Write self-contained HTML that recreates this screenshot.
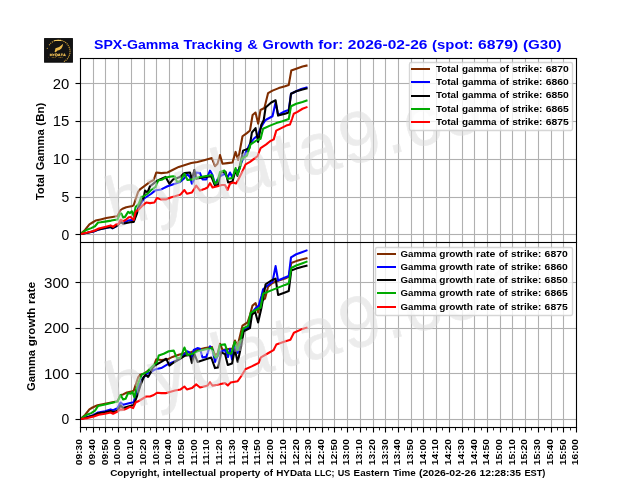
<!DOCTYPE html>
<html lang="en"><head><meta charset="utf-8"><title>SPX-Gamma Tracking &amp; Growth</title>
<style>
html,body{margin:0;padding:0;background:#fff;}
body{width:640px;height:480px;overflow:hidden;}
svg{display:block;will-change:transform;}
text{font-family:"Liberation Sans",sans-serif;}
.b{font-weight:bold;}
.g{stroke:#b0b0b0;stroke-width:1.11;}
.s{stroke:#000;stroke-width:1.11;}
.ln{fill:none;stroke-width:2.08;stroke-linejoin:round;stroke-linecap:square;}
</style></head><body>
<svg width="640" height="480" viewBox="0 0 640 480">
<rect x="0" y="0" width="640" height="480" fill="#fff"/>
<g id="logo">
<rect x="44.1" y="38.1" width="28.8" height="24.6" fill="#000"/>
<rect x="45" y="39" width="27" height="22.8" fill="#131313"/>
<clipPath id="lc"><rect x="44.1" y="38.1" width="28.8" height="24.6"/></clipPath>
<g clip-path="url(#lc)" fill="none" stroke-linecap="butt">
<path d="M49.15 45.13 A11.40 11.40 0 1 1 63.95 61.57" stroke="#d9a738" stroke-width="1.15" stroke-dasharray="1.1 0.9"/>
<path d="M54.2 40.5 H61.4" stroke="#f0c860" stroke-width="1.1"/>
<circle cx="47.3" cy="48.3" r="0.6" fill="#d2a033" stroke="none"/>
<circle cx="48.3" cy="57.3" r="0.45" fill="#6b5118" stroke="none"/>
<path d="M54.6 52 L55.5 48.3 L59.2 46.9 L63.2 43.7 L62.5 46.4 L61.4 48.5 L59.5 50.1 L57 50.7 L56 52.3 Z" fill="#ebba4a" stroke="none"/>
<path d="M50.3 53.7 V56.1 M52 53.7 V56.1 M50.3 54.9 H52 M52.8 53.7 L53.75 54.9 L54.7 53.7 M53.75 54.9 V56.1 M55.7 53.7 V56.1 H56.5 Q57.5 56.1 57.5 54.9 Q57.5 53.7 56.5 53.7 H55.7 M58.2 56.1 L59.15 53.7 L60.1 56.1 M58.6 55.4 H59.7 M60.8 54 H62.8 M61.8 54 V56.1 M63.5 56.1 L64.45 53.7 L65.4 56.1 M63.9 55.4 H65" stroke="#efc055" stroke-width="0.95"/>
<path d="M51.8 57.5 H55.6 M58.6 57.5 H62.8" stroke="#b88c2c" stroke-width="0.7" stroke-dasharray="0.9 0.6"/>
</g>
</g>
<text font-size="13.40" class="b" fill="#0000ff"><tspan x="94.00" y="49.30" textLength="84.75" lengthAdjust="spacingAndGlyphs">SPX-Gamma</tspan> <tspan x="183.44" y="49.30" textLength="59.22" lengthAdjust="spacingAndGlyphs">Tracking</tspan> <tspan x="247.36" y="49.30" textLength="10.54" lengthAdjust="spacingAndGlyphs">&amp;</tspan> <tspan x="262.61" y="49.30" textLength="51.05" lengthAdjust="spacingAndGlyphs">Growth</tspan> <tspan x="318.36" y="49.30" textLength="24.82" lengthAdjust="spacingAndGlyphs">for:</tspan> <tspan x="347.88" y="49.30" textLength="79.56" lengthAdjust="spacingAndGlyphs">2026-02-26</tspan> <tspan x="432.13" y="49.30" textLength="41.29" lengthAdjust="spacingAndGlyphs">(spot:</tspan> <tspan x="478.12" y="49.30" textLength="40.13" lengthAdjust="spacingAndGlyphs">6879)</tspan> <tspan x="522.94" y="49.30" textLength="38.71" lengthAdjust="spacingAndGlyphs">(G30)</tspan></text>
<g class="g">
<line x1="93.5" y1="58.5" x2="93.5" y2="427.5"/>
<line x1="105.5" y1="58.5" x2="105.5" y2="427.5"/>
<line x1="118.5" y1="58.5" x2="118.5" y2="427.5"/>
<line x1="131.5" y1="58.5" x2="131.5" y2="427.5"/>
<line x1="144.5" y1="58.5" x2="144.5" y2="427.5"/>
<line x1="156.5" y1="58.5" x2="156.5" y2="427.5"/>
<line x1="169.5" y1="58.5" x2="169.5" y2="427.5"/>
<line x1="182.5" y1="58.5" x2="182.5" y2="427.5"/>
<line x1="194.5" y1="58.5" x2="194.5" y2="427.5"/>
<line x1="207.5" y1="58.5" x2="207.5" y2="427.5"/>
<line x1="220.5" y1="58.5" x2="220.5" y2="427.5"/>
<line x1="233.5" y1="58.5" x2="233.5" y2="427.5"/>
<line x1="245.5" y1="58.5" x2="245.5" y2="427.5"/>
<line x1="258.5" y1="58.5" x2="258.5" y2="427.5"/>
<line x1="271.5" y1="58.5" x2="271.5" y2="427.5"/>
<line x1="283.5" y1="58.5" x2="283.5" y2="427.5"/>
<line x1="296.5" y1="58.5" x2="296.5" y2="427.5"/>
<line x1="309.5" y1="58.5" x2="309.5" y2="427.5"/>
<line x1="322.5" y1="58.5" x2="322.5" y2="427.5"/>
<line x1="334.5" y1="58.5" x2="334.5" y2="427.5"/>
<line x1="347.5" y1="58.5" x2="347.5" y2="427.5"/>
<line x1="360.5" y1="58.5" x2="360.5" y2="427.5"/>
<line x1="373.5" y1="58.5" x2="373.5" y2="427.5"/>
<line x1="385.5" y1="58.5" x2="385.5" y2="427.5"/>
<line x1="398.5" y1="58.5" x2="398.5" y2="427.5"/>
<line x1="411.5" y1="58.5" x2="411.5" y2="427.5"/>
<line x1="423.5" y1="58.5" x2="423.5" y2="427.5"/>
<line x1="436.5" y1="58.5" x2="436.5" y2="427.5"/>
<line x1="449.5" y1="58.5" x2="449.5" y2="427.5"/>
<line x1="462.5" y1="58.5" x2="462.5" y2="427.5"/>
<line x1="474.5" y1="58.5" x2="474.5" y2="427.5"/>
<line x1="487.5" y1="58.5" x2="487.5" y2="427.5"/>
<line x1="500.5" y1="58.5" x2="500.5" y2="427.5"/>
<line x1="512.5" y1="58.5" x2="512.5" y2="427.5"/>
<line x1="525.5" y1="58.5" x2="525.5" y2="427.5"/>
<line x1="538.5" y1="58.5" x2="538.5" y2="427.5"/>
<line x1="551.5" y1="58.5" x2="551.5" y2="427.5"/>
<line x1="563.5" y1="58.5" x2="563.5" y2="427.5"/>
</g>
<g fill="#b0b0b0">
<rect x="81" y="82.945" width="495" height="1.11"/>
<rect x="81" y="120.945" width="495" height="1.11"/>
<rect x="81" y="158.945" width="495" height="1.11"/>
<rect x="81" y="196.945" width="495" height="1.11"/>
<rect x="81" y="233.945" width="495" height="1.11"/>
<rect x="81" y="281.945" width="495" height="1.11"/>
<rect x="81" y="327.945" width="495" height="1.11"/>
<rect x="81" y="372.945" width="495" height="1.11"/>
<rect x="81" y="418.945" width="495" height="1.11"/>
</g>
<clipPath id="c1"><rect x="80" y="57.6" width="496" height="184.8"/></clipPath>
<clipPath id="c2"><rect x="80" y="242.4" width="496" height="184.8"/></clipPath>
<g class="ln" clip-path="url(#c1)">
<polyline stroke="#7f2d00" points="80.50,234.00 85.00,230.00 89.40,224.40 92.50,222.50 95.60,220.60 100.60,219.40 106.25,218.10 112.50,216.90 117.50,216.00 120.60,210.00 122.50,208.75 126.25,207.25 132.50,206.00 133.75,205.00 138.10,191.90 140.00,189.40 145.00,185.60 150.00,181.90 153.75,180.00 156.25,172.50 161.25,173.10 167.50,172.50 172.50,170.00 178.75,166.90 185.00,165.00 191.25,163.10 197.50,161.90 205.00,160.00 211.90,158.10 215.00,166.25 217.50,163.75 220.00,155.00 222.50,163.75 227.50,163.10 232.50,162.50 235.60,151.90 238.10,160.00 242.50,136.25 246.90,133.10 250.00,130.50 252.60,115.00 255.50,112.50 258.20,123.70 260.50,110.00 264.40,108.00 268.10,93.10 272.50,90.60 278.75,88.10 285.00,86.25 288.75,85.00 291.25,70.60 296.25,68.75 302.50,66.50 306.50,65.60"/>
<polyline stroke="#0000ff" points="80.50,234.00 87.50,232.80 93.75,231.50 98.75,229.60 105.00,228.20 110.60,227.00 112.50,228.30 117.50,225.50 120.60,221.00 123.10,222.80 128.10,220.60 131.25,220.00 133.75,220.60 136.90,211.25 138.75,206.90 141.25,203.10 143.75,198.75 147.50,196.25 151.25,193.75 155.00,190.60 161.25,189.40 167.50,186.25 175.00,183.75 180.00,181.90 183.75,178.75 187.50,174.40 190.00,176.90 191.90,183.75 193.75,180.00 196.25,172.50 200.00,173.10 202.50,179.40 206.25,179.40 210.00,170.60 212.50,175.00 215.00,185.00 217.50,179.40 220.00,176.25 225.00,173.75 227.50,177.50 230.00,172.50 232.50,177.50 235.60,170.00 238.75,170.60 241.90,161.25 246.00,152.00 250.00,143.75 253.75,138.75 257.50,135.60 261.25,126.90 263.10,123.75 265.60,120.00 272.50,116.25 275.60,102.50 278.10,115.00 285.00,111.25 288.75,110.00 291.00,93.75 296.25,91.25 301.25,89.00 306.50,87.50"/>
<polyline stroke="#000000" points="80.50,234.00 87.50,232.80 93.75,231.30 98.75,229.40 105.00,228.00 110.60,226.90 112.50,228.10 117.50,225.60 120.60,221.90 123.10,223.75 130.00,222.25 133.75,221.90 136.90,213.75 138.75,206.90 141.25,201.25 143.75,197.50 145.00,190.60 147.50,192.50 150.00,186.25 152.50,184.40 155.60,181.90 158.75,180.00 165.60,176.90 169.40,183.75 173.10,179.40 180.00,176.90 184.40,173.10 190.00,172.50 191.90,179.40 194.40,170.00 196.25,178.75 200.00,178.10 205.00,176.90 211.25,176.25 215.00,185.60 218.10,185.00 220.60,172.50 225.60,171.90 228.10,182.50 232.50,181.50 235.60,170.00 237.50,176.00 240.00,165.00 243.10,150.60 249.40,148.10 251.90,132.50 255.60,128.10 258.10,141.90 261.25,125.00 263.75,120.00 265.60,107.50 271.25,102.50 275.60,100.25 278.10,115.60 285.00,113.75 288.75,112.50 291.00,93.75 296.25,91.25 302.50,89.40 306.50,88.50"/>
<polyline stroke="#00aa00" points="80.50,234.00 86.25,230.00 91.25,228.10 95.00,226.25 98.10,222.50 100.60,222.25 105.00,221.60 111.25,220.60 117.50,219.40 120.00,213.75 121.25,213.50 123.10,217.50 125.00,216.90 128.10,211.90 130.00,213.10 131.90,211.25 133.75,216.25 135.60,206.90 138.75,203.75 141.25,196.90 143.75,196.25 147.50,193.75 151.25,190.00 155.60,186.90 158.10,180.60 162.50,179.40 165.60,177.50 168.75,176.90 173.10,176.25 175.00,176.50 176.90,181.90 180.00,181.25 184.40,173.75 187.50,180.00 192.50,179.40 197.50,177.50 205.00,176.25 211.90,175.00 215.00,183.75 217.50,181.25 220.00,171.90 224.40,170.60 227.50,178.75 232.50,178.10 235.60,168.10 237.50,175.00 240.00,167.50 241.90,158.75 246.90,155.60 250.60,144.40 256.25,140.60 260.60,138.75 263.10,128.75 270.00,125.60 276.25,123.10 282.50,121.25 288.75,119.00 291.00,106.25 296.25,103.75 302.50,101.90 306.50,100.60"/>
<polyline stroke="#ff0000" points="80.50,234.00 87.50,232.50 93.75,231.00 98.75,228.50 105.00,226.90 110.60,225.40 113.10,226.90 116.25,224.40 118.75,223.75 120.60,219.75 123.10,221.25 125.60,220.00 128.75,217.25 130.60,216.90 133.75,220.00 135.60,211.90 138.75,209.40 142.50,205.60 146.25,202.50 150.00,203.10 154.40,202.50 156.90,198.10 161.25,199.40 166.25,199.40 170.60,197.50 175.00,196.25 180.60,194.40 184.40,190.00 186.90,193.75 191.90,192.50 196.25,185.60 200.00,190.60 205.00,188.75 207.50,187.50 210.00,183.10 212.50,187.50 217.50,186.25 221.90,185.00 225.00,185.00 227.50,190.00 230.00,183.75 233.00,182.50 236.00,183.50 238.10,180.00 241.90,172.50 245.60,164.40 250.00,161.90 257.50,156.25 260.60,148.10 266.25,144.40 270.00,141.25 273.75,139.40 276.25,130.60 281.25,128.10 286.25,125.60 290.00,124.40 292.00,119.00 293.75,113.75 297.50,111.90 302.50,108.75 306.50,107.25"/>
</g>
<g class="ln" clip-path="url(#c2)">
<polyline stroke="#7f2d00" points="80.50,419.00 85.00,415.00 89.40,409.40 92.50,407.50 97.50,405.25 105.00,403.75 112.50,402.25 117.50,401.25 120.60,395.00 123.10,394.40 126.90,392.50 132.50,391.25 133.75,390.60 138.10,377.50 140.00,375.00 145.00,373.10 150.00,369.00 153.75,365.80 156.25,359.40 161.25,360.00 167.50,359.40 172.50,356.90 178.75,354.75 185.00,353.10 191.25,351.90 197.50,350.00 205.00,348.10 211.90,346.90 215.00,355.00 217.50,353.75 220.00,343.75 222.50,350.00 230.00,348.75 232.50,348.75 235.00,340.60 237.50,346.25 242.50,325.60 247.50,322.50 250.00,315.00 252.50,305.60 255.60,303.10 258.10,312.50 261.25,301.25 265.00,298.75 268.10,286.75 272.50,283.00 278.75,280.50 285.00,278.60 288.75,276.75 291.25,263.00 296.25,261.10 302.50,259.25 306.50,258.25"/>
<polyline stroke="#0000ff" points="80.50,419.00 87.50,416.90 93.75,415.00 98.10,412.50 105.00,411.25 110.60,409.40 113.10,410.25 117.50,408.10 120.60,402.50 123.10,404.75 130.00,403.10 133.75,402.25 136.90,390.00 140.00,383.75 142.50,378.75 147.50,373.10 150.00,372.50 155.00,369.40 161.25,368.10 167.50,364.40 175.00,361.25 180.00,358.75 183.75,355.00 187.50,351.25 190.00,353.10 191.90,358.75 193.75,350.00 197.50,348.10 200.00,348.75 202.50,357.50 206.25,356.90 210.00,346.25 212.50,350.00 215.00,361.90 217.50,356.25 220.00,351.90 225.00,350.00 228.00,357.00 230.00,349.00 232.00,359.40 234.80,345.00 237.70,353.00 240.50,342.00 243.75,330.00 248.75,327.50 251.25,313.75 255.00,308.75 258.75,305.60 261.50,296.00 263.10,289.25 267.50,285.50 272.50,281.75 275.60,266.10 278.10,280.50 285.00,277.40 288.75,276.10 291.00,257.40 296.25,254.25 302.50,252.00 306.50,250.50"/>
<polyline stroke="#000000" points="80.50,419.00 87.50,417.20 93.75,415.50 98.10,413.30 105.00,412.25 110.60,411.00 113.10,412.25 117.50,410.60 120.60,405.60 123.10,408.10 130.00,406.00 133.75,405.00 137.50,395.00 140.60,385.00 143.75,376.90 145.60,375.00 148.10,376.90 150.00,373.75 152.50,368.10 155.60,365.00 161.25,361.90 166.25,358.75 169.40,365.60 173.75,362.50 180.00,358.75 185.00,355.60 190.00,355.00 191.90,363.10 194.40,353.75 197.50,361.90 205.00,359.40 211.25,357.50 215.00,368.10 218.10,367.50 221.25,352.50 225.00,354.00 227.80,365.00 232.00,363.60 234.80,349.50 237.70,362.00 241.20,346.00 243.75,331.25 250.00,328.10 251.90,315.00 255.00,311.25 258.10,322.50 261.25,308.75 263.75,295.00 265.60,284.25 271.25,280.50 275.60,278.60 278.10,294.90 285.00,292.40 288.75,291.10 291.25,270.50 296.25,268.60 302.50,266.75 306.50,265.75"/>
<polyline stroke="#00aa00" points="80.50,419.00 86.25,415.00 91.25,413.10 95.00,410.60 98.10,406.00 105.00,404.40 111.25,402.90 117.50,401.60 120.60,395.00 123.10,399.40 125.60,398.75 128.10,393.10 130.60,393.75 132.50,391.90 134.40,397.50 136.25,388.75 138.75,381.90 141.90,374.40 147.50,371.90 150.00,368.75 153.75,365.00 156.90,362.50 158.75,355.60 163.75,353.75 168.75,351.25 173.75,350.60 176.90,358.10 180.60,357.50 184.40,347.50 187.50,355.00 192.50,353.75 197.50,351.25 205.00,349.40 211.90,348.10 215.00,357.50 217.50,356.25 220.00,345.00 225.00,344.40 227.80,353.00 231.30,353.75 234.80,341.80 237.50,350.00 240.30,341.50 243.10,328.50 248.10,325.80 250.60,313.10 255.60,310.00 260.60,307.50 263.10,293.75 272.50,289.90 278.75,287.40 285.00,284.90 288.75,283.60 291.25,268.00 296.25,265.50 302.50,263.25 306.50,261.75"/>
<polyline stroke="#ff0000" points="80.50,419.00 87.50,418.10 93.75,416.50 98.75,414.75 105.00,413.75 110.60,412.50 113.10,413.75 117.50,411.50 120.60,409.40 123.75,409.75 126.25,408.75 130.00,406.90 133.10,408.10 135.60,402.50 138.75,401.00 142.50,398.75 146.25,396.50 150.00,396.50 153.75,395.00 156.90,392.80 161.25,393.10 166.25,393.10 175.00,390.60 180.60,389.40 184.40,386.50 186.90,389.40 191.90,388.10 196.25,384.40 200.00,387.50 205.00,386.25 207.50,385.60 210.00,382.25 212.50,385.60 217.50,384.75 221.90,383.75 225.00,383.00 227.80,385.40 230.60,382.60 237.70,381.20 241.20,376.25 245.40,369.20 251.70,366.40 258.75,362.90 260.90,357.30 267.20,353.75 273.50,350.20 276.30,344.60 284.10,341.80 290.40,339.70 293.90,332.70 300.90,329.60 306.50,327.70"/>
</g>
<g class="s">
<line x1="80.5" y1="58" x2="80.5" y2="428"/>
<line x1="576.5" y1="58" x2="576.5" y2="428"/>
</g>
<g fill="#000">
<rect x="79.945" y="57.945" width="497.11" height="1.11"/>
<rect x="79.945" y="241.945" width="497.11" height="1.11"/>
<rect x="79.945" y="426.945" width="497.11" height="1.11"/>
</g>
<g fill="#000">
<rect x="75.5" y="82.945" width="4.5" height="1.11"/>
<rect x="75.5" y="120.945" width="4.5" height="1.11"/>
<rect x="75.5" y="158.945" width="4.5" height="1.11"/>
<rect x="75.5" y="196.945" width="4.5" height="1.11"/>
<rect x="75.5" y="233.945" width="4.5" height="1.11"/>
<rect x="75.5" y="281.945" width="4.5" height="1.11"/>
<rect x="75.5" y="327.945" width="4.5" height="1.11"/>
<rect x="75.5" y="372.945" width="4.5" height="1.11"/>
<rect x="75.5" y="418.945" width="4.5" height="1.11"/>
<rect x="79.945" y="428" width="1.11" height="4.5"/>
<rect x="92.945" y="428" width="1.11" height="4.5"/>
<rect x="104.945" y="428" width="1.11" height="4.5"/>
<rect x="117.945" y="428" width="1.11" height="4.5"/>
<rect x="130.945" y="428" width="1.11" height="4.5"/>
<rect x="143.945" y="428" width="1.11" height="4.5"/>
<rect x="155.945" y="428" width="1.11" height="4.5"/>
<rect x="168.945" y="428" width="1.11" height="4.5"/>
<rect x="181.945" y="428" width="1.11" height="4.5"/>
<rect x="193.945" y="428" width="1.11" height="4.5"/>
<rect x="206.945" y="428" width="1.11" height="4.5"/>
<rect x="219.945" y="428" width="1.11" height="4.5"/>
<rect x="232.945" y="428" width="1.11" height="4.5"/>
<rect x="244.945" y="428" width="1.11" height="4.5"/>
<rect x="257.945" y="428" width="1.11" height="4.5"/>
<rect x="270.945" y="428" width="1.11" height="4.5"/>
<rect x="282.945" y="428" width="1.11" height="4.5"/>
<rect x="295.945" y="428" width="1.11" height="4.5"/>
<rect x="308.945" y="428" width="1.11" height="4.5"/>
<rect x="321.945" y="428" width="1.11" height="4.5"/>
<rect x="333.945" y="428" width="1.11" height="4.5"/>
<rect x="346.945" y="428" width="1.11" height="4.5"/>
<rect x="359.945" y="428" width="1.11" height="4.5"/>
<rect x="372.945" y="428" width="1.11" height="4.5"/>
<rect x="384.945" y="428" width="1.11" height="4.5"/>
<rect x="397.945" y="428" width="1.11" height="4.5"/>
<rect x="410.945" y="428" width="1.11" height="4.5"/>
<rect x="422.945" y="428" width="1.11" height="4.5"/>
<rect x="435.945" y="428" width="1.11" height="4.5"/>
<rect x="448.945" y="428" width="1.11" height="4.5"/>
<rect x="461.945" y="428" width="1.11" height="4.5"/>
<rect x="473.945" y="428" width="1.11" height="4.5"/>
<rect x="486.945" y="428" width="1.11" height="4.5"/>
<rect x="499.945" y="428" width="1.11" height="4.5"/>
<rect x="511.945" y="428" width="1.11" height="4.5"/>
<rect x="524.945" y="428" width="1.11" height="4.5"/>
<rect x="537.945" y="428" width="1.11" height="4.5"/>
<rect x="550.945" y="428" width="1.11" height="4.5"/>
<rect x="562.945" y="428" width="1.11" height="4.5"/>
<rect x="575.945" y="428" width="1.11" height="4.5"/>
<rect x="86" y="428" width="1" height="2.42" fill-opacity="0.85"/>
<rect x="99" y="428" width="1" height="2.42" fill-opacity="0.85"/>
<rect x="112" y="428" width="1" height="2.42" fill-opacity="0.85"/>
<rect x="125" y="428" width="1" height="2.42" fill-opacity="0.85"/>
<rect x="137" y="428" width="1" height="2.42" fill-opacity="0.85"/>
<rect x="150" y="428" width="1" height="2.42" fill-opacity="0.85"/>
<rect x="163" y="428" width="1" height="2.42" fill-opacity="0.85"/>
<rect x="175" y="428" width="1" height="2.42" fill-opacity="0.85"/>
<rect x="188" y="428" width="1" height="2.42" fill-opacity="0.85"/>
<rect x="201" y="428" width="1" height="2.42" fill-opacity="0.85"/>
<rect x="214" y="428" width="1" height="2.42" fill-opacity="0.85"/>
<rect x="226" y="428" width="1" height="2.42" fill-opacity="0.85"/>
<rect x="239" y="428" width="1" height="2.42" fill-opacity="0.85"/>
<rect x="252" y="428" width="1" height="2.42" fill-opacity="0.85"/>
<rect x="264" y="428" width="1" height="2.42" fill-opacity="0.85"/>
<rect x="277" y="428" width="1" height="2.42" fill-opacity="0.85"/>
<rect x="290" y="428" width="1" height="2.42" fill-opacity="0.85"/>
<rect x="303" y="428" width="1" height="2.42" fill-opacity="0.85"/>
<rect x="315" y="428" width="1" height="2.42" fill-opacity="0.85"/>
<rect x="328" y="428" width="1" height="2.42" fill-opacity="0.85"/>
<rect x="341" y="428" width="1" height="2.42" fill-opacity="0.85"/>
<rect x="353" y="428" width="1" height="2.42" fill-opacity="0.85"/>
<rect x="366" y="428" width="1" height="2.42" fill-opacity="0.85"/>
<rect x="379" y="428" width="1" height="2.42" fill-opacity="0.85"/>
<rect x="392" y="428" width="1" height="2.42" fill-opacity="0.85"/>
<rect x="404" y="428" width="1" height="2.42" fill-opacity="0.85"/>
<rect x="417" y="428" width="1" height="2.42" fill-opacity="0.85"/>
<rect x="430" y="428" width="1" height="2.42" fill-opacity="0.85"/>
<rect x="442" y="428" width="1" height="2.42" fill-opacity="0.85"/>
<rect x="455" y="428" width="1" height="2.42" fill-opacity="0.85"/>
<rect x="468" y="428" width="1" height="2.42" fill-opacity="0.85"/>
<rect x="481" y="428" width="1" height="2.42" fill-opacity="0.85"/>
<rect x="493" y="428" width="1" height="2.42" fill-opacity="0.85"/>
<rect x="506" y="428" width="1" height="2.42" fill-opacity="0.85"/>
<rect x="519" y="428" width="1" height="2.42" fill-opacity="0.85"/>
<rect x="531" y="428" width="1" height="2.42" fill-opacity="0.85"/>
<rect x="544" y="428" width="1" height="2.42" fill-opacity="0.85"/>
<rect x="557" y="428" width="1" height="2.42" fill-opacity="0.85"/>
<rect x="570" y="428" width="1" height="2.42" fill-opacity="0.85"/>
</g>
<text font-size="14.50"><tspan x="52.78" y="88.80" textLength="16.50" lengthAdjust="spacingAndGlyphs">20</tspan></text>
<text font-size="14.50"><tspan x="52.65" y="125.80" textLength="16.63" lengthAdjust="spacingAndGlyphs">15</tspan></text>
<text font-size="14.50"><tspan x="52.65" y="163.80" textLength="16.63" lengthAdjust="spacingAndGlyphs">10</tspan></text>
<text font-size="14.50"><tspan x="61.53" y="201.80" textLength="7.75" lengthAdjust="spacingAndGlyphs">5</tspan></text>
<text font-size="14.50"><tspan x="61.53" y="239.80" textLength="7.75" lengthAdjust="spacingAndGlyphs">0</tspan></text>
<text font-size="14.50"><tspan x="44.03" y="287.80" textLength="25.25" lengthAdjust="spacingAndGlyphs">300</tspan></text>
<text font-size="14.50"><tspan x="44.03" y="332.80" textLength="25.25" lengthAdjust="spacingAndGlyphs">200</tspan></text>
<text font-size="14.50"><tspan x="43.90" y="378.80" textLength="25.38" lengthAdjust="spacingAndGlyphs">100</tspan></text>
<text font-size="14.50"><tspan x="61.53" y="423.80" textLength="7.75" lengthAdjust="spacingAndGlyphs">0</tspan></text>
<text font-size="9.40" class="b" transform="translate(82.30,438.80) rotate(-90)"><tspan x="-26.45" y="0.00" textLength="26.10" lengthAdjust="spacingAndGlyphs">09:30</tspan></text>
<text font-size="9.40" class="b" transform="translate(95.02,438.80) rotate(-90)"><tspan x="-26.45" y="0.00" textLength="26.10" lengthAdjust="spacingAndGlyphs">09:40</tspan></text>
<text font-size="9.40" class="b" transform="translate(107.74,438.80) rotate(-90)"><tspan x="-26.45" y="0.00" textLength="26.10" lengthAdjust="spacingAndGlyphs">09:50</tspan></text>
<text font-size="9.40" class="b" transform="translate(120.45,438.80) rotate(-90)"><tspan x="-26.45" y="0.00" textLength="26.10" lengthAdjust="spacingAndGlyphs">10:00</tspan></text>
<text font-size="9.40" class="b" transform="translate(133.17,438.80) rotate(-90)"><tspan x="-26.45" y="0.00" textLength="26.10" lengthAdjust="spacingAndGlyphs">10:10</tspan></text>
<text font-size="9.40" class="b" transform="translate(145.89,438.80) rotate(-90)"><tspan x="-26.45" y="0.00" textLength="26.10" lengthAdjust="spacingAndGlyphs">10:20</tspan></text>
<text font-size="9.40" class="b" transform="translate(158.61,438.80) rotate(-90)"><tspan x="-26.45" y="0.00" textLength="26.10" lengthAdjust="spacingAndGlyphs">10:30</tspan></text>
<text font-size="9.40" class="b" transform="translate(171.33,438.80) rotate(-90)"><tspan x="-26.45" y="0.00" textLength="26.10" lengthAdjust="spacingAndGlyphs">10:40</tspan></text>
<text font-size="9.40" class="b" transform="translate(184.04,438.80) rotate(-90)"><tspan x="-26.45" y="0.00" textLength="26.10" lengthAdjust="spacingAndGlyphs">10:50</tspan></text>
<text font-size="9.40" class="b" transform="translate(196.76,438.80) rotate(-90)"><tspan x="-26.45" y="0.00" textLength="26.10" lengthAdjust="spacingAndGlyphs">11:00</tspan></text>
<text font-size="9.40" class="b" transform="translate(209.48,438.80) rotate(-90)"><tspan x="-26.45" y="0.00" textLength="26.10" lengthAdjust="spacingAndGlyphs">11:10</tspan></text>
<text font-size="9.40" class="b" transform="translate(222.20,438.80) rotate(-90)"><tspan x="-26.45" y="0.00" textLength="26.10" lengthAdjust="spacingAndGlyphs">11:20</tspan></text>
<text font-size="9.40" class="b" transform="translate(234.92,438.80) rotate(-90)"><tspan x="-26.45" y="0.00" textLength="26.10" lengthAdjust="spacingAndGlyphs">11:30</tspan></text>
<text font-size="9.40" class="b" transform="translate(247.63,438.80) rotate(-90)"><tspan x="-26.45" y="0.00" textLength="26.10" lengthAdjust="spacingAndGlyphs">11:40</tspan></text>
<text font-size="9.40" class="b" transform="translate(260.35,438.80) rotate(-90)"><tspan x="-26.45" y="0.00" textLength="26.10" lengthAdjust="spacingAndGlyphs">11:50</tspan></text>
<text font-size="9.40" class="b" transform="translate(273.07,438.80) rotate(-90)"><tspan x="-26.45" y="0.00" textLength="26.10" lengthAdjust="spacingAndGlyphs">12:00</tspan></text>
<text font-size="9.40" class="b" transform="translate(285.79,438.80) rotate(-90)"><tspan x="-26.45" y="0.00" textLength="26.10" lengthAdjust="spacingAndGlyphs">12:10</tspan></text>
<text font-size="9.40" class="b" transform="translate(298.51,438.80) rotate(-90)"><tspan x="-26.45" y="0.00" textLength="26.10" lengthAdjust="spacingAndGlyphs">12:20</tspan></text>
<text font-size="9.40" class="b" transform="translate(311.22,438.80) rotate(-90)"><tspan x="-26.45" y="0.00" textLength="26.10" lengthAdjust="spacingAndGlyphs">12:30</tspan></text>
<text font-size="9.40" class="b" transform="translate(323.94,438.80) rotate(-90)"><tspan x="-26.45" y="0.00" textLength="26.10" lengthAdjust="spacingAndGlyphs">12:40</tspan></text>
<text font-size="9.40" class="b" transform="translate(336.66,438.80) rotate(-90)"><tspan x="-26.45" y="0.00" textLength="26.10" lengthAdjust="spacingAndGlyphs">12:50</tspan></text>
<text font-size="9.40" class="b" transform="translate(349.38,438.80) rotate(-90)"><tspan x="-26.45" y="0.00" textLength="26.10" lengthAdjust="spacingAndGlyphs">13:00</tspan></text>
<text font-size="9.40" class="b" transform="translate(362.09,438.80) rotate(-90)"><tspan x="-26.45" y="0.00" textLength="26.10" lengthAdjust="spacingAndGlyphs">13:10</tspan></text>
<text font-size="9.40" class="b" transform="translate(374.81,438.80) rotate(-90)"><tspan x="-26.45" y="0.00" textLength="26.10" lengthAdjust="spacingAndGlyphs">13:20</tspan></text>
<text font-size="9.40" class="b" transform="translate(387.53,438.80) rotate(-90)"><tspan x="-26.45" y="0.00" textLength="26.10" lengthAdjust="spacingAndGlyphs">13:30</tspan></text>
<text font-size="9.40" class="b" transform="translate(400.25,438.80) rotate(-90)"><tspan x="-26.45" y="0.00" textLength="26.10" lengthAdjust="spacingAndGlyphs">13:40</tspan></text>
<text font-size="9.40" class="b" transform="translate(412.97,438.80) rotate(-90)"><tspan x="-26.45" y="0.00" textLength="26.10" lengthAdjust="spacingAndGlyphs">13:50</tspan></text>
<text font-size="9.40" class="b" transform="translate(425.68,438.80) rotate(-90)"><tspan x="-26.45" y="0.00" textLength="26.10" lengthAdjust="spacingAndGlyphs">14:00</tspan></text>
<text font-size="9.40" class="b" transform="translate(438.40,438.80) rotate(-90)"><tspan x="-26.45" y="0.00" textLength="26.10" lengthAdjust="spacingAndGlyphs">14:10</tspan></text>
<text font-size="9.40" class="b" transform="translate(451.12,438.80) rotate(-90)"><tspan x="-26.45" y="0.00" textLength="26.10" lengthAdjust="spacingAndGlyphs">14:20</tspan></text>
<text font-size="9.40" class="b" transform="translate(463.84,438.80) rotate(-90)"><tspan x="-26.45" y="0.00" textLength="26.10" lengthAdjust="spacingAndGlyphs">14:30</tspan></text>
<text font-size="9.40" class="b" transform="translate(476.56,438.80) rotate(-90)"><tspan x="-26.45" y="0.00" textLength="26.10" lengthAdjust="spacingAndGlyphs">14:40</tspan></text>
<text font-size="9.40" class="b" transform="translate(489.27,438.80) rotate(-90)"><tspan x="-26.45" y="0.00" textLength="26.10" lengthAdjust="spacingAndGlyphs">14:50</tspan></text>
<text font-size="9.40" class="b" transform="translate(501.99,438.80) rotate(-90)"><tspan x="-26.45" y="0.00" textLength="26.10" lengthAdjust="spacingAndGlyphs">15:00</tspan></text>
<text font-size="9.40" class="b" transform="translate(514.71,438.80) rotate(-90)"><tspan x="-26.45" y="0.00" textLength="26.10" lengthAdjust="spacingAndGlyphs">15:10</tspan></text>
<text font-size="9.40" class="b" transform="translate(527.43,438.80) rotate(-90)"><tspan x="-26.45" y="0.00" textLength="26.10" lengthAdjust="spacingAndGlyphs">15:20</tspan></text>
<text font-size="9.40" class="b" transform="translate(540.15,438.80) rotate(-90)"><tspan x="-26.45" y="0.00" textLength="26.10" lengthAdjust="spacingAndGlyphs">15:30</tspan></text>
<text font-size="9.40" class="b" transform="translate(552.86,438.80) rotate(-90)"><tspan x="-26.45" y="0.00" textLength="26.10" lengthAdjust="spacingAndGlyphs">15:40</tspan></text>
<text font-size="9.40" class="b" transform="translate(565.58,438.80) rotate(-90)"><tspan x="-26.45" y="0.00" textLength="26.10" lengthAdjust="spacingAndGlyphs">15:50</tspan></text>
<text font-size="9.40" class="b" transform="translate(578.30,438.80) rotate(-90)"><tspan x="-26.45" y="0.00" textLength="26.10" lengthAdjust="spacingAndGlyphs">16:00</tspan></text>
<text font-size="10.50" class="b" transform="translate(43.9,151.35) rotate(-90)"><tspan x="-48.95" y="0.00" textLength="26.21" lengthAdjust="spacingAndGlyphs">Total</tspan> <tspan x="-19.01" y="0.00" textLength="41.01" lengthAdjust="spacingAndGlyphs">Gamma</tspan> <tspan x="25.73" y="0.00" textLength="22.87" lengthAdjust="spacingAndGlyphs">(Bn)</tspan></text>
<text font-size="10.50" class="b" transform="translate(35.15,336.15) rotate(-90)"><tspan x="-54.75" y="0.00" textLength="40.93" lengthAdjust="spacingAndGlyphs">Gamma</tspan> <tspan x="-10.09" y="0.00" textLength="38.56" lengthAdjust="spacingAndGlyphs">growth</tspan> <tspan x="32.20" y="0.00" textLength="22.20" lengthAdjust="spacingAndGlyphs">rate</tspan></text>
<text font-size="9.60" class="b"><tspan x="110.19" y="476.30" textLength="49.41" lengthAdjust="spacingAndGlyphs">Copyright,</tspan> <tspan x="162.88" y="476.30" textLength="53.32" lengthAdjust="spacingAndGlyphs">intellectual</tspan> <tspan x="219.48" y="476.30" textLength="41.01" lengthAdjust="spacingAndGlyphs">property</tspan> <tspan x="263.78" y="476.30" textLength="9.10" lengthAdjust="spacingAndGlyphs">of</tspan> <tspan x="276.16" y="476.30" textLength="35.17" lengthAdjust="spacingAndGlyphs">HYData</tspan> <tspan x="314.60" y="476.30" textLength="19.92" lengthAdjust="spacingAndGlyphs">LLC;</tspan> <tspan x="337.81" y="476.30" textLength="12.55" lengthAdjust="spacingAndGlyphs">US</tspan> <tspan x="353.64" y="476.30" textLength="35.97" lengthAdjust="spacingAndGlyphs">Eastern</tspan> <tspan x="392.90" y="476.30" textLength="22.76" lengthAdjust="spacingAndGlyphs">Time</tspan> <tspan x="418.94" y="476.30" textLength="57.35" lengthAdjust="spacingAndGlyphs">(2026-02-26</tspan> <tspan x="479.57" y="476.30" textLength="41.53" lengthAdjust="spacingAndGlyphs">12:28:35</tspan> <tspan x="524.38" y="476.30" textLength="21.06" lengthAdjust="spacingAndGlyphs">EST)</tspan></text>
<g opacity="0.5"><text transform="translate(327.00,152.50) rotate(-15)" font-size="72.00" fill="#dbdbdb" stroke="#dbdbdb" stroke-width="0.60" stroke-linejoin="round" x="-226.05 -181.48 -140.91 -97.60 -52.69 -27.82 15.55 58.69 80.82 119.13 164.23" y="18.19">hydata9.com</text></g>
<g opacity="0.5"><text transform="translate(327.00,337.30) rotate(-15)" font-size="72.00" fill="#dbdbdb" stroke="#dbdbdb" stroke-width="0.60" stroke-linejoin="round" x="-226.05 -181.48 -140.91 -97.60 -52.69 -27.82 15.55 58.69 80.82 119.13 164.23" y="18.19">hydata9.com</text></g>
<rect x="409.50" y="62.50" width="163.00" height="68.00" rx="1.67" ry="1.67" fill="#fff" fill-opacity="0.8" stroke="#ccc" stroke-opacity="0.8" stroke-width="1.39"/>
<rect x="411" y="68" width="19" height="2" fill="#7f2d00" shape-rendering="crispEdges"/>
<text font-size="9.60" class="b"><tspan x="436.02" y="71.90" textLength="22.66" lengthAdjust="spacingAndGlyphs">Total</tspan> <tspan x="461.96" y="71.90" textLength="34.59" lengthAdjust="spacingAndGlyphs">gamma</tspan> <tspan x="499.84" y="71.90" textLength="9.10" lengthAdjust="spacingAndGlyphs">of</tspan> <tspan x="512.22" y="71.90" textLength="30.18" lengthAdjust="spacingAndGlyphs">strike:</tspan> <tspan x="545.68" y="71.90" textLength="23.09" lengthAdjust="spacingAndGlyphs">6870</tspan></text>
<rect x="411" y="81" width="19" height="2" fill="#0000ff" shape-rendering="crispEdges"/>
<text font-size="9.60" class="b"><tspan x="436.02" y="84.90" textLength="22.66" lengthAdjust="spacingAndGlyphs">Total</tspan> <tspan x="461.96" y="84.90" textLength="34.59" lengthAdjust="spacingAndGlyphs">gamma</tspan> <tspan x="499.84" y="84.90" textLength="9.10" lengthAdjust="spacingAndGlyphs">of</tspan> <tspan x="512.22" y="84.90" textLength="30.18" lengthAdjust="spacingAndGlyphs">strike:</tspan> <tspan x="545.68" y="84.90" textLength="23.09" lengthAdjust="spacingAndGlyphs">6860</tspan></text>
<rect x="411" y="95" width="19" height="2" fill="#000000" shape-rendering="crispEdges"/>
<text font-size="9.60" class="b"><tspan x="436.02" y="97.90" textLength="22.66" lengthAdjust="spacingAndGlyphs">Total</tspan> <tspan x="461.96" y="97.90" textLength="34.59" lengthAdjust="spacingAndGlyphs">gamma</tspan> <tspan x="499.84" y="97.90" textLength="9.10" lengthAdjust="spacingAndGlyphs">of</tspan> <tspan x="512.22" y="97.90" textLength="30.18" lengthAdjust="spacingAndGlyphs">strike:</tspan> <tspan x="545.68" y="97.90" textLength="23.09" lengthAdjust="spacingAndGlyphs">6850</tspan></text>
<rect x="411" y="108" width="19" height="2" fill="#00aa00" shape-rendering="crispEdges"/>
<text font-size="9.60" class="b"><tspan x="436.02" y="111.90" textLength="22.66" lengthAdjust="spacingAndGlyphs">Total</tspan> <tspan x="461.96" y="111.90" textLength="34.59" lengthAdjust="spacingAndGlyphs">gamma</tspan> <tspan x="499.84" y="111.90" textLength="9.10" lengthAdjust="spacingAndGlyphs">of</tspan> <tspan x="512.22" y="111.90" textLength="30.18" lengthAdjust="spacingAndGlyphs">strike:</tspan> <tspan x="545.68" y="111.90" textLength="23.09" lengthAdjust="spacingAndGlyphs">6865</tspan></text>
<rect x="411" y="121" width="19" height="2" fill="#ff0000" shape-rendering="crispEdges"/>
<text font-size="9.60" class="b"><tspan x="436.02" y="124.90" textLength="22.66" lengthAdjust="spacingAndGlyphs">Total</tspan> <tspan x="461.96" y="124.90" textLength="34.59" lengthAdjust="spacingAndGlyphs">gamma</tspan> <tspan x="499.84" y="124.90" textLength="9.10" lengthAdjust="spacingAndGlyphs">of</tspan> <tspan x="512.22" y="124.90" textLength="30.18" lengthAdjust="spacingAndGlyphs">strike:</tspan> <tspan x="545.68" y="124.90" textLength="23.09" lengthAdjust="spacingAndGlyphs">6875</tspan></text>
<rect x="375.50" y="247.50" width="197.00" height="68.00" rx="1.67" ry="1.67" fill="#fff" fill-opacity="0.8" stroke="#ccc" stroke-opacity="0.8" stroke-width="1.39"/>
<rect x="377" y="253" width="19" height="2" fill="#7f2d00" shape-rendering="crispEdges"/>
<text font-size="9.60" class="b"><tspan x="400.50" y="256.90" textLength="35.55" lengthAdjust="spacingAndGlyphs">Gamma</tspan> <tspan x="439.34" y="256.90" textLength="33.49" lengthAdjust="spacingAndGlyphs">growth</tspan> <tspan x="476.12" y="256.90" textLength="19.26" lengthAdjust="spacingAndGlyphs">rate</tspan> <tspan x="498.67" y="256.90" textLength="9.12" lengthAdjust="spacingAndGlyphs">of</tspan> <tspan x="511.08" y="256.90" textLength="30.25" lengthAdjust="spacingAndGlyphs">strike:</tspan> <tspan x="544.61" y="256.90" textLength="23.14" lengthAdjust="spacingAndGlyphs">6870</tspan></text>
<rect x="377" y="266" width="19" height="2" fill="#0000ff" shape-rendering="crispEdges"/>
<text font-size="9.60" class="b"><tspan x="400.50" y="269.90" textLength="35.55" lengthAdjust="spacingAndGlyphs">Gamma</tspan> <tspan x="439.34" y="269.90" textLength="33.49" lengthAdjust="spacingAndGlyphs">growth</tspan> <tspan x="476.12" y="269.90" textLength="19.26" lengthAdjust="spacingAndGlyphs">rate</tspan> <tspan x="498.67" y="269.90" textLength="9.12" lengthAdjust="spacingAndGlyphs">of</tspan> <tspan x="511.08" y="269.90" textLength="30.25" lengthAdjust="spacingAndGlyphs">strike:</tspan> <tspan x="544.61" y="269.90" textLength="23.14" lengthAdjust="spacingAndGlyphs">6860</tspan></text>
<rect x="377" y="279" width="19" height="2" fill="#000000" shape-rendering="crispEdges"/>
<text font-size="9.60" class="b"><tspan x="400.50" y="282.90" textLength="35.55" lengthAdjust="spacingAndGlyphs">Gamma</tspan> <tspan x="439.34" y="282.90" textLength="33.49" lengthAdjust="spacingAndGlyphs">growth</tspan> <tspan x="476.12" y="282.90" textLength="19.26" lengthAdjust="spacingAndGlyphs">rate</tspan> <tspan x="498.67" y="282.90" textLength="9.12" lengthAdjust="spacingAndGlyphs">of</tspan> <tspan x="511.08" y="282.90" textLength="30.25" lengthAdjust="spacingAndGlyphs">strike:</tspan> <tspan x="544.61" y="282.90" textLength="23.14" lengthAdjust="spacingAndGlyphs">6850</tspan></text>
<rect x="377" y="292" width="19" height="2" fill="#00aa00" shape-rendering="crispEdges"/>
<text font-size="9.60" class="b"><tspan x="400.50" y="295.90" textLength="35.55" lengthAdjust="spacingAndGlyphs">Gamma</tspan> <tspan x="439.34" y="295.90" textLength="33.49" lengthAdjust="spacingAndGlyphs">growth</tspan> <tspan x="476.12" y="295.90" textLength="19.26" lengthAdjust="spacingAndGlyphs">rate</tspan> <tspan x="498.67" y="295.90" textLength="9.12" lengthAdjust="spacingAndGlyphs">of</tspan> <tspan x="511.08" y="295.90" textLength="30.25" lengthAdjust="spacingAndGlyphs">strike:</tspan> <tspan x="544.61" y="295.90" textLength="23.14" lengthAdjust="spacingAndGlyphs">6865</tspan></text>
<rect x="377" y="306" width="19" height="2" fill="#ff0000" shape-rendering="crispEdges"/>
<text font-size="9.60" class="b"><tspan x="400.50" y="309.90" textLength="35.55" lengthAdjust="spacingAndGlyphs">Gamma</tspan> <tspan x="439.34" y="309.90" textLength="33.49" lengthAdjust="spacingAndGlyphs">growth</tspan> <tspan x="476.12" y="309.90" textLength="19.26" lengthAdjust="spacingAndGlyphs">rate</tspan> <tspan x="498.67" y="309.90" textLength="9.12" lengthAdjust="spacingAndGlyphs">of</tspan> <tspan x="511.08" y="309.90" textLength="30.25" lengthAdjust="spacingAndGlyphs">strike:</tspan> <tspan x="544.61" y="309.90" textLength="23.14" lengthAdjust="spacingAndGlyphs">6875</tspan></text>
</svg></body></html>
